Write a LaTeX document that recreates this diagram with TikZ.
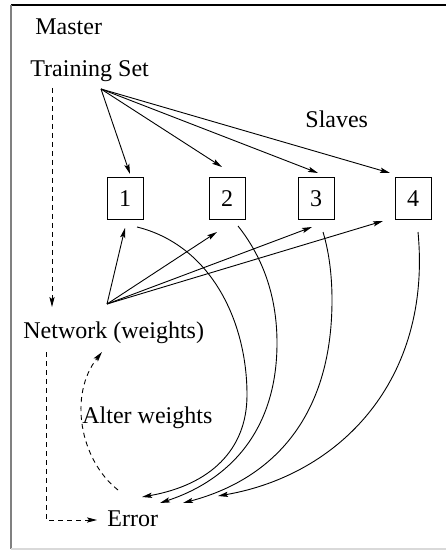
\documentclass[tikz,border=0pt]{standalone}
\usepackage{fontspec}
\setmainfont{Liberation Serif}
\usetikzlibrary{arrows.meta}

\begin{document}
\begin{tikzpicture}[x=0.5pt,y=-0.5pt,
  txt/.style={inner sep=0pt,anchor=base west,font=\fontsize{12}{14}\selectfont},
  slavebox/.style={draw,line width=0.5pt,minimum width=18pt,minimum height=21pt,
                   inner sep=0pt,font=\fontsize{12}{14}\selectfont},
  feed/.style={line width=0.45pt,-{Stealth[length=5pt,width=2.6pt,inset=1pt]}},
  flow/.style={feed,dash pattern=on 2.5pt off 2pt}]

\useasboundingbox (0,0) rectangle (446,550);

% frame
\draw[line width=1pt] (11,5)--(446,5);
\draw[line width=1pt,black!50] (11,5)--(11,549);
\draw[line width=1pt,black!15] (11,549)--(446,549);

% labels
\node (master) [txt] at (35,35) {Master};
\node (tset)   [txt] at (30,77) {Training Set};
\node (slaves) [txt] at (305,128) {Slaves};
\node (net)    [txt] at (23,338) {Network (weights)};
\node (alter)  [txt] at (82,423) {Alter weights};
\node (err)    [txt] at (107,526) {Error};

% slaves
\node (s1) [slavebox] at (125,199) {1};
\node (s2) [slavebox] at (227,199) {2};
\node (s3) [slavebox] at (316,199) {3};
\node (s4) [slavebox] at (413,199) {4};


\coordinate (tsout) at (101,89);
\coordinate (netout) at (107,304);

\coordinate (ts_1) at (130,174);
\coordinate (ts_2) at (222,167);
\coordinate (ts_3) at (318,173);
\coordinate (ts_4) at (390,173);

\coordinate (nt_1) at (125,228);
\coordinate (nt_2) at (217,232);
\coordinate (nt_3) at (312,227);
\coordinate (nt_4) at (383,221);

\coordinate (bk_1) at (137,227);
\coordinate (bk_2) at (238,226);
\coordinate (bk_3) at (323,232);
\coordinate (bk_4) at (418,232);

\coordinate (er_1) at (142,497);
\coordinate (er_2) at (160,503);
\coordinate (er_3) at (183,503);
\coordinate (er_4) at (218,496);

\coordinate (tsdown) at (52,88);
\coordinate (netin) at (52,307);
\coordinate (netdown) at (46,352);
\coordinate (corner) at (46,520);
\coordinate (errin) at (97,520);
\coordinate (altstart) at (118,490);
\coordinate (altend) at (102,352);


% training set to slaves
\draw[feed] (tsout)--(ts_1);
\draw[feed] (tsout)--(ts_2);
\draw[feed] (tsout)--(ts_3);
\draw[feed] (tsout)--(ts_4);

% network to slaves
\draw[feed] (netout)--(nt_1);
\draw[feed] (netout)--(nt_2);
\draw[feed] (netout)--(nt_3);
\draw[feed] (netout)--(nt_4);

% slaves to error
\draw[feed] (bk_1) .. controls (210,245) and (247,320) .. (247,395)
                   .. controls (247,450) and (210,485) .. (er_1);
\draw[feed] (bk_2) .. controls (265,260) and (277,300) .. (277,343)
                   .. controls (277,430) and (230,480) .. (er_2);
\draw[feed] (bk_3) .. controls (330,255) and (332,280) .. (332,300)
                   .. controls (332,420) and (270,480) .. (er_3);
\draw[feed] (bk_4) .. controls (432,380) and (340,475) .. (er_4);

% master flow
\draw[flow] (tsdown)--(netin);
\draw[flow] (netdown)--(corner)--(errin);
\draw[flow] (altstart) .. controls (80,460) and (68,395) .. (altend);
\end{tikzpicture}
\end{document}
